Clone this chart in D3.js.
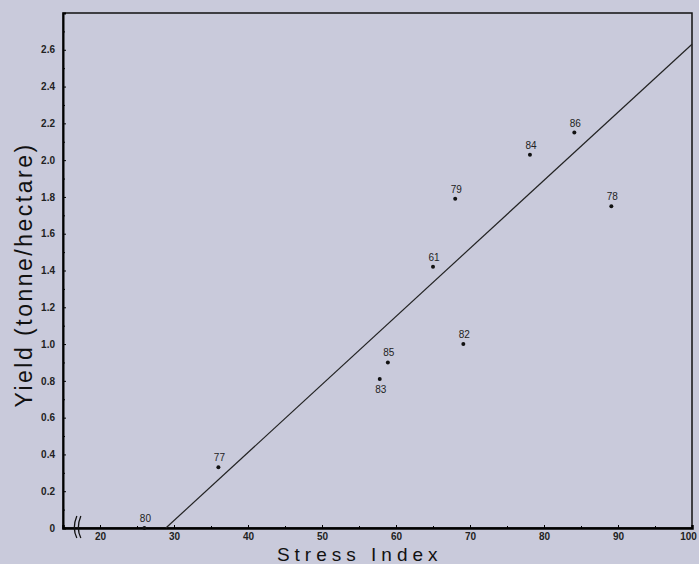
<!DOCTYPE html>
<html>
<head>
<meta charset="utf-8">
<script src="https://cdn.jsdelivr.net/npm/d3@7"></script>
<style>
  body { margin: 0; background: #c9cadb; }
  svg { display: block; }
  .tick text { font-family: "Liberation Sans", Arial, sans-serif; font-size: 10px; font-weight: bold; fill: #222; }
</style>
</head>
<body>
<svg></svg>
<script>
// Data (year labels, stress index, yield)
const years = ["80", "77", "83", "85", "82", "61", "79", "84", "86", "78"];
const stress = [26, 36, 57.8, 58.9, 69.1, 65, 68, 78.1, 84.1, 89.1];
const yieldVals = [0, 0.33, 0.81, 0.9, 1.0, 1.42, 1.79, 2.03, 2.15, 1.75];
const labelBelow = ["83"];

// Regression line end points
const fitX = [28.9, 100];
const fitY = [0, 2.63];

const xTicks = [20, 30, 40, 50, 60, 70, 80, 90, 100];
const yTicks = [0, 0.2, 0.4, 0.6, 0.8, 1.0, 1.2, 1.4, 1.6, 1.8, 2.0, 2.2, 2.4, 2.6];

// Dimensions and margins
const margin = { top: 13, right: 7, bottom: 36, left: 63 };
const width = 699 - margin.left - margin.right;
const height = 564 - margin.top - margin.bottom;

const svg = d3.select("svg")
  .attr("width", 699)
  .attr("height", 564)
  .append("g")
  .attr("transform", `translate(${margin.left}, ${margin.top})`);

const xScale = d3.scaleLinear().domain([15, 100]).range([0, width]);
const yScale = d3.scaleLinear().domain([0, 2.8]).range([height, 0]);

// Frame
svg.append("rect")
  .attr("width", width)
  .attr("height", height)
  .attr("fill", "none")
  .attr("stroke", "#111")
  .attr("stroke-width", 1.5);

// Axes (ticks pointing inward)
svg.append("g")
  .attr("transform", `translate(0, ${height})`)
  .call(d3.axisBottom(xScale).tickValues(xTicks).tickSize(-3).tickPadding(5).tickFormat(d3.format("d")))
  .call(g => g.select(".domain").attr("stroke-width", 2.5))
  .call(g => g.selectAll(".tick text").filter(d => d === 100).attr("dx", "-4"));

svg.append("g")
  .call(d3.axisLeft(yScale).tickValues(yTicks).tickSize(-3).tickPadding(8)
    .tickFormat(d => d === 0 ? "0" : d3.format(".1f")(d)))
  .call(g => g.select(".domain").attr("stroke-width", 2));

// Minor ticks
svg.append("g")
  .attr("transform", `translate(0, ${height})`)
  .call(d3.axisBottom(xScale).tickValues(d3.range(25, 100, 10)).tickSize(-2).tickFormat(""))
  .call(g => g.select(".domain").remove());
svg.append("g")
  .call(d3.axisLeft(yScale).tickValues(d3.range(0.1, 2.8, 0.2)).tickSize(-2).tickFormat(""))
  .call(g => g.select(".domain").remove());

// Axis break mark
const bx = xScale(16.6);
[0, 4].forEach(dx => {
  svg.append("path")
    .attr("d", `M${bx + dx + 2},${height - 12} Q${bx + dx - 3},${height} ${bx + dx + 2},${height + 10}`)
    .attr("fill", "none")
    .attr("stroke", "#111")
    .attr("stroke-width", 1.3);
});

// Regression line
const line = d3.line()
  .x(d => xScale(d[0]))
  .y(d => yScale(d[1]));
svg.append("path")
  .datum(fitX.map((x, i) => [x, fitY[i]]))
  .attr("d", line)
  .attr("fill", "none")
  .attr("stroke", "#222")
  .attr("stroke-width", 1.2);

// Points and labels
const pts = years.map((y, i) => ({ year: y, x: stress[i], y: yieldVals[i] }));
svg.selectAll(".dot")
  .data(pts)
  .enter()
  .append("circle")
  .attr("class", "dot")
  .attr("cx", d => xScale(d.x))
  .attr("cy", d => yScale(d.y))
  .attr("r", 2)
  .attr("fill", "#111");

svg.selectAll(".lbl")
  .data(pts)
  .enter()
  .append("text")
  .attr("class", "lbl")
  .attr("x", d => xScale(d.x) + 1)
  .attr("y", d => yScale(d.y) + (labelBelow.includes(d.year) ? 14 : -6))
  .attr("text-anchor", "middle")
  .style("font-family", "Liberation Sans, Arial, sans-serif")
  .style("font-size", "10px")
  .style("fill", "#222")
  .text(d => d.year);

// Axis titles
svg.append("text")
  .attr("x", xScale(55.1))
  .attr("y", height + 33)
  .attr("text-anchor", "middle")
  .style("font-family", "Liberation Sans, Arial, sans-serif")
  .style("font-size", "19px")
  .style("letter-spacing", "5px")
  .style("fill", "#111")
  .text("Stress Index");

svg.append("text")
  .attr("transform", "rotate(-90)")
  .attr("x", -(275 - margin.top))
  .attr("y", -margin.left + 32)
  .attr("text-anchor", "middle")
  .style("font-family", "Liberation Sans, Arial, sans-serif")
  .style("font-size", "23px")
  .style("letter-spacing", "2.5px")
  .style("fill", "#111")
  .text("Yield (tonne/hectare)");
</script>
</body>
</html>
